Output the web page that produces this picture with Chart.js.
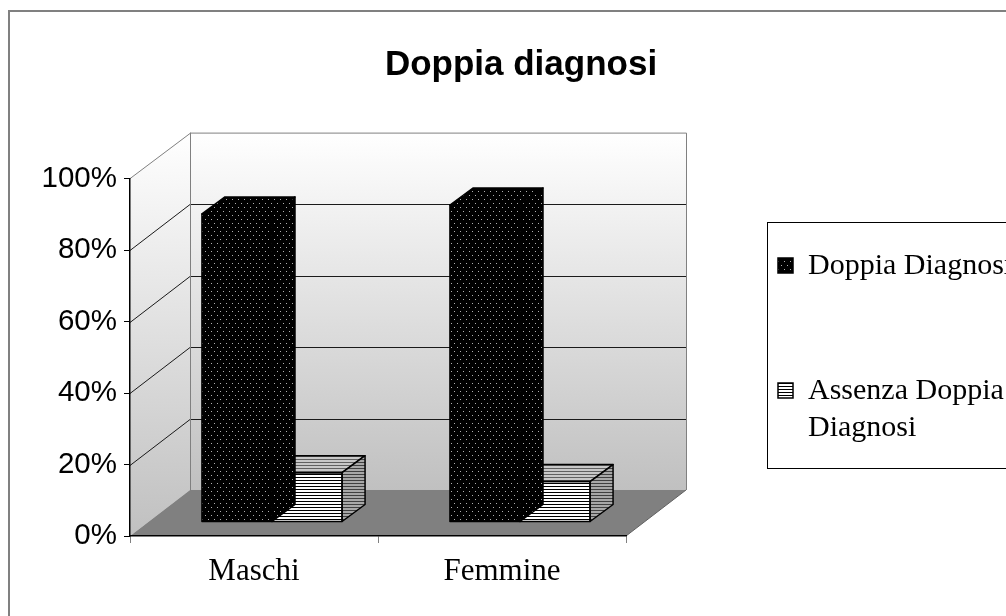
<!DOCTYPE html>
<html>
<head>
<meta charset="utf-8">
<script src="https://cdn.jsdelivr.net/npm/chart.js@4/dist/chart.umd.min.js"></script>
<style>
  html, body { margin: 0; padding: 0; background: #fff; }
  #wrap { width: 1006px; height: 616px; }
</style>
</head>
<body>
<div id="wrap"><canvas id="myChart" width="1006" height="616"></canvas></div>
<script>
const categories = ['Maschi', 'Femmine'];
const seriesNames = ['Doppia Diagnosi', 'Assenza Doppia Diagnosi'];
const doppiaDiagnosi = [0.862, 0.887];
const assenzaDoppia = [0.138, 0.113];
const yTicks = [0, 0.2, 0.4, 0.6, 0.8, 1];

// 3d look: depth of the whole box, the plane where bars sit, depth of a bar
const WALL_DX = 60, WALL_DY = 46;
const BAR_SHIFT_X = 18, BAR_SHIFT_Y = 14;
const BAR_DX = 23, BAR_DY = 17;

function makePattern(w, h, bg, draw) {
  const c = document.createElement('canvas');
  c.width = w; c.height = h;
  const g = c.getContext('2d');
  g.fillStyle = bg;
  g.fillRect(0, 0, w, h);
  draw(g);
  return g.createPattern(c, 'repeat');
}
const dots = makePattern(6, 8, '#000', g => {
  g.fillStyle = '#b0b0b0';
  g.fillRect(1, 1, 1, 1);
  g.fillRect(4, 5, 1, 1);
});
const lines = (bg, fg) => makePattern(4, 3, bg, g => { g.fillStyle = fg; g.fillRect(0, 2, 4, 1); });
const linesFront = lines('#fff', '#000');
const linesTop = lines('#c8c8c8', '#606060');
const linesSide = lines('#a8a8a8', '#404040');

const faces = [
  { front: dots, top: dots, side: dots },
  { front: linesFront, top: linesTop, side: linesSide }
];

function poly(ctx, pts, fill) {
  ctx.beginPath();
  pts.forEach((p, i) => i ? ctx.lineTo(p[0], p[1]) : ctx.moveTo(p[0], p[1]));
  ctx.closePath();
  ctx.fillStyle = fill;
  ctx.fill();
  ctx.stroke();
}

const box3d = {
  id: 'box3d',
  beforeDraw(chart) {
    const ctx = chart.ctx;
    const y = chart.scales.y;
    const a = chart.chartArea;
    const L = a.left, R = a.right;
    const y0 = y.getPixelForValue(0), y1 = y.getPixelForValue(1);
    ctx.save();
    // outer frame
    ctx.strokeStyle = '#808080';
    ctx.lineWidth = 2;
    ctx.beginPath();
    ctx.moveTo(9, 620); ctx.lineTo(9, 11); ctx.lineTo(1010, 11);
    ctx.stroke();

    ctx.lineWidth = 1;
    // back wall
    let grad = ctx.createLinearGradient(0, y1 - WALL_DY, 0, y0 - WALL_DY);
    grad.addColorStop(0, '#ffffff');
    grad.addColorStop(1, '#c0c0c0');
    ctx.fillStyle = grad;
    ctx.fillRect(L + WALL_DX, y1 - WALL_DY, R - L, y0 - y1);
    // left wall
    grad = ctx.createLinearGradient(0, y1 - WALL_DY, 0, y0);
    grad.addColorStop(0, '#ffffff');
    grad.addColorStop(1, '#c0c0c0');
    ctx.fillStyle = grad;
    ctx.beginPath();
    ctx.moveTo(L, y0); ctx.lineTo(L, y1);
    ctx.lineTo(L + WALL_DX, y1 - WALL_DY); ctx.lineTo(L + WALL_DX, y0 - WALL_DY);
    ctx.closePath();
    ctx.fill();
    // grid on the walls
    ctx.strokeStyle = '#1a1a1a';
    yTicks.slice(1, -1).forEach(v => {
      const py = Math.round(y.getPixelForValue(v)) + 0.5;
      ctx.beginPath();
      ctx.moveTo(L, py);
      ctx.lineTo(L + WALL_DX, py - WALL_DY);
      ctx.lineTo(R + WALL_DX, py - WALL_DY);
      ctx.stroke();
    });
    // floor
    ctx.fillStyle = '#808080';
    ctx.strokeStyle = '#606060';
    ctx.beginPath();
    ctx.moveTo(L, y0); ctx.lineTo(R, y0);
    ctx.lineTo(R + WALL_DX, y0 - WALL_DY); ctx.lineTo(L + WALL_DX, y0 - WALL_DY);
    ctx.closePath();
    ctx.fill();
    ctx.beginPath();
    ctx.moveTo(R, y0); ctx.lineTo(R + WALL_DX, y0 - WALL_DY);
    ctx.stroke();
    // wall outlines
    ctx.strokeStyle = '#808080';
    ctx.beginPath();
    ctx.moveTo(L, y1); ctx.lineTo(L + WALL_DX + 0.5, y1 - WALL_DY + 0.5);
    ctx.lineTo(R + WALL_DX + 0.5, y1 - WALL_DY + 0.5);
    ctx.lineTo(R + WALL_DX + 0.5, y0 - WALL_DY);
    ctx.moveTo(L + WALL_DX + 0.5, y1 - WALL_DY);
    ctx.lineTo(L + WALL_DX + 0.5, y0 - WALL_DY);
    ctx.stroke();
    ctx.restore();
  },
  beforeDatasetDraw(chart) {
    chart.ctx.save();
    chart.ctx.translate(BAR_SHIFT_X, -BAR_SHIFT_Y);
  },
  afterDatasetDraw(chart, args) {
    const ctx = chart.ctx;
    const f = faces[args.index];
    ctx.strokeStyle = '#000';
    ctx.lineWidth = 1.5;
    ctx.lineJoin = 'round';
    args.meta.data.forEach(el => {
      const l = el.x - el.width / 2, r = el.x + el.width / 2, t = el.y, b = el.base;
      poly(ctx, [[l, t], [r, t], [r + BAR_DX, t - BAR_DY], [l + BAR_DX, t - BAR_DY]], f.top);
      poly(ctx, [[r, t], [r, b], [r + BAR_DX, b - BAR_DY], [r + BAR_DX, t - BAR_DY]], f.side);
      ctx.strokeRect(l, t, r - l, b - t);
    });
    ctx.restore();
  },
  afterDraw(chart) {
    const ctx = chart.ctx;
    ctx.save();
    ctx.strokeStyle = '#000';
    ctx.lineWidth = 1;
    ctx.strokeRect(767.5, 222.5, 260, 246);
    ctx.font = '30px "Liberation Serif", "Times New Roman", serif';
    ctx.fillStyle = '#000';
    ctx.textBaseline = 'middle';
    const rows = [266, 391];
    chart.data.datasets.forEach((ds, i) => {
      const yy = rows[i];
      ctx.fillStyle = faces[i].front;
      ctx.fillRect(778, yy - 8, 15, 15);
      ctx.lineWidth = 1.5;
      ctx.strokeRect(778, yy - 8, 15, 15);
      ctx.fillStyle = '#000';
      // wrap label
      const words = ds.label.split(' ');
      let line = '', ly = yy;
      words.forEach(w => {
        const test = line ? line + ' ' + w : w;
        if (line && ctx.measureText(test).width > 225) {
          ctx.fillText(line, 808, ly);
          line = w; ly += 37;
        } else line = test;
      });
      ctx.fillText(line, 808, ly);
    });
    ctx.restore();
  }
};

new Chart(document.getElementById('myChart'), {
  type: 'bar',
  data: {
    labels: categories,
    datasets: [
      { label: seriesNames[0], data: doppiaDiagnosi, backgroundColor: faces[0].front },
      { label: seriesNames[1], data: assenzaDoppia, backgroundColor: faces[1].front }
    ]
  },
  plugins: [box3d],
  options: {
    responsive: false,
    animation: false,
    devicePixelRatio: 1,
    layout: { padding: { left: 36, top: 0, right: 0, bottom: 0 } },
    datasets: {
      bar: {
        categoryPercentage: 0.565,
        barPercentage: 1,
        borderWidth: 0,
        borderSkipped: false,
        clip: false
      }
    },
    scales: {
      x: {
        grid: { offset: true, drawOnChartArea: false, drawTicks: true, tickLength: 7, color: '#808080' },
        border: { color: '#000', width: 1.5 },
        ticks: { color: '#000', padding: 10, font: { family: '"Liberation Serif", "Times New Roman", serif', size: 31 } },
        afterFit: s => { s.height = 80; }
      },
      y: {
        min: 0,
        max: 1,
        afterBuildTicks: s => { s.ticks = yTicks.map(v => ({ value: v })); },
        grid: { drawOnChartArea: false, tickLength: 6, color: '#000' },
        border: { color: '#000', width: 1.5 },
        ticks: {
          color: '#000',
          padding: 7,
          font: { family: '"Liberation Sans", Arial, sans-serif', size: 29.5 },
          callback: v => Math.round(v * 100) + '%'
        },
        afterFit: s => { s.width = 94; }
      },
      pad: {
        type: 'linear',
        position: 'right',
        grid: { display: false },
        border: { display: false },
        ticks: { display: false },
        afterFit: s => { s.width = 380; }
      }
    },
    plugins: {
      legend: { display: false },
      tooltip: { enabled: false },
      title: {
        display: true,
        text: 'Doppia diagnosi',
        color: '#000',
        font: { family: '"Liberation Sans", Arial, sans-serif', size: 35, weight: 'bold', lineHeight: 1.2 },
        padding: { top: 44, bottom: 92.6 }
      }
    }
  }
});
</script>
</body>
</html>
